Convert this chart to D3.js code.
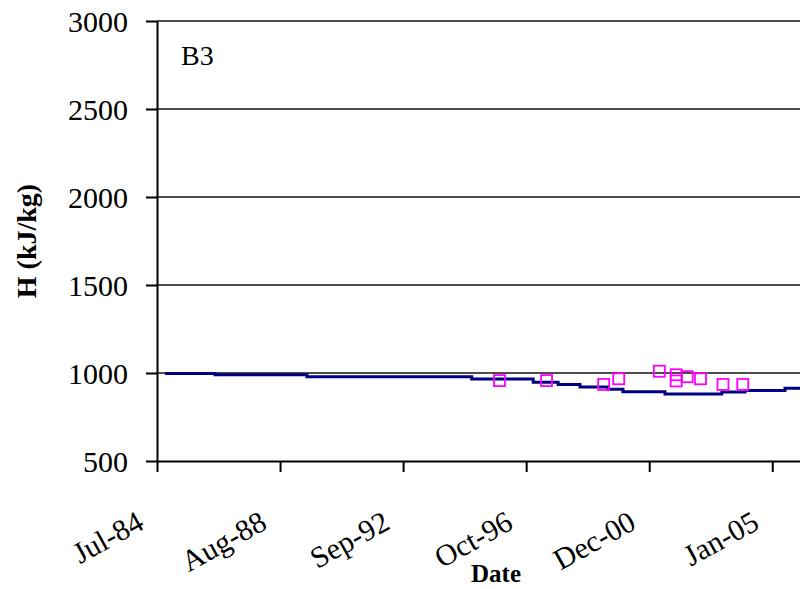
<html>
  <head>
    <style>
      body { margin: 0; background: #fff; }
      text { font-family: "Liberation Serif", "Times New Roman", serif; }
    </style>
  </head>
  <body>
    <script src="https://d3js.org/d3.v7.min.js"></script>
    <script>
      (function() {
        var WIDTH = 800;
        var HEIGHT = 589;

        // Step line (model) : date where each level starts, and level in kJ/kg
        var lineDates = ['1984-10-06', '1986-06-08', '1989-07-03', '1995-01-01', '1997-01-20',
                         '1997-11-20', '1998-08-13', '1999-07-20', '2000-01-19', '2001-06-14',
                         '2003-05-08', '2004-02-14', '2005-06-16', '2005-12-16'];
        var lineValues = [997, 990, 979, 966, 947, 935, 921, 908, 893, 880, 892, 901, 913, 913];

        // Measured points (squares)
        var pointDates = ['1995-12-06', '1997-07-01', '1999-05-29', '1999-11-28', '2001-04-06',
                          '2001-10-29', '2001-10-29', '2002-03-12', '2002-08-21', '2003-05-22',
                          '2004-01-18'];
        var pointValues = [957, 957, 935, 967, 1010, 990, 955, 979, 967, 935, 935];

        // Axis ticks
        var xTickDates = ['1984-07-01', '1988-08-09', '1992-09-17', '1996-10-26', '2000-12-04', '2005-01-12'];
        var xTickLabels = ['Jul-84', 'Aug-88', 'Sep-92', 'Oct-96', 'Dec-00', 'Jan-05'];
        var yTicks = [500, 1000, 1500, 2000, 2500, 3000];

        var parse = d3.utcParse('%Y-%m-%d');

        var x = d3.scaleUtc()
          .domain([parse('1984-07-01'), parse('2005-12-16')])
          .range([157, 800]);

        var y = d3.scaleLinear()
          .domain([500, 3000])
          .range([461, 21]);

        var svg = d3.select('body')
          .append('svg')
          .attr('width', WIDTH)
          .attr('height', HEIGHT);

        // Gridlines
        svg.append('g')
          .selectAll('line')
          .data(yTicks.slice(1))
          .enter().append('line')
          .attr('x1', 157)
          .attr('x2', 800)
          .attr('y1', function(d) { return y(d); })
          .attr('y2', function(d) { return y(d); })
          .attr('stroke', '#111')
          .attr('stroke-width', 1.6);

        // Y axis
        var yAxis = svg.append('g')
          .attr('transform', 'translate(157,0)')
          .call(d3.axisLeft(y)
            .tickValues(yTicks)
            .tickFormat(d3.format('d'))
            .tickSize(11)
            .tickPadding(18)
            .tickSizeOuter(0));
        yAxis.select('.domain').attr('stroke', '#000').attr('stroke-width', 2);
        yAxis.selectAll('.tick line').attr('stroke', '#000').attr('stroke-width', 2);
        yAxis.selectAll('.tick text')
          .attr('font-family', '"Liberation Serif", serif')
          .attr('font-size', '30px')
          .attr('fill', '#000')
          .attr('dy', '0.34em');

        // X axis
        var xAxis = svg.append('g')
          .attr('transform', 'translate(0,461)')
          .call(d3.axisBottom(x)
            .tickValues(xTickDates.map(parse))
            .tickSize(11)
            .tickSizeOuter(0)
            .tickFormat(function(d, i) { return xTickLabels[i]; }));
        xAxis.select('.domain').attr('stroke', '#000').attr('stroke-width', 2);
        xAxis.selectAll('.tick line').attr('stroke', '#000').attr('stroke-width', 2);
        xAxis.selectAll('.tick text')
          .attr('font-family', '"Liberation Serif", serif')
          .attr('font-size', '30px')
          .attr('fill', '#000')
          .attr('text-anchor', 'end')
          .attr('x', 0)
          .attr('y', 0)
          .attr('dy', 0)
          .attr('transform', 'translate(-12,67) rotate(-29)');

        // Model step line
        var lineData = lineDates.map(function(d, i) { return {date: parse(d), value: lineValues[i]}; });
        var line = d3.line()
          .x(function(d) { return x(d.date); })
          .y(function(d) { return y(d.value); })
          .curve(d3.curveStepAfter);

        svg.append('path')
          .datum(lineData)
          .attr('fill', 'none')
          .attr('stroke', '#000080')
          .attr('stroke-width', 3)
          .attr('d', line);

        // Measured points
        var SQ = 11;
        svg.append('g')
          .selectAll('rect')
          .data(pointDates.map(function(d, i) { return {date: parse(d), value: pointValues[i]}; }))
          .enter().append('rect')
          .attr('x', function(d) { return x(d.date) - SQ / 2; })
          .attr('y', function(d) { return y(d.value) - SQ / 2; })
          .attr('width', SQ)
          .attr('height', SQ)
          .attr('fill', 'none')
          .attr('stroke', '#ff00ff')
          .attr('stroke-width', 1.8);

        // Panel label
        svg.append('text')
          .text('B3')
          .attr('x', 181)
          .attr('y', 65)
          .attr('font-size', '28px')
          .attr('fill', '#000');

        // Axis titles
        svg.append('text')
          .text('H (kJ/kg)')
          .attr('transform', 'translate(36,241) rotate(-90)')
          .attr('text-anchor', 'middle')
          .attr('font-size', '28px')
          .attr('font-weight', 'bold')
          .attr('fill', '#000');

        svg.append('text')
          .text('Date')
          .attr('x', 496)
          .attr('y', 582)
          .attr('text-anchor', 'middle')
          .attr('font-size', '25px')
          .attr('font-weight', 'bold')
          .attr('fill', '#000');
      })();
    </script>
  </body>
</html>
